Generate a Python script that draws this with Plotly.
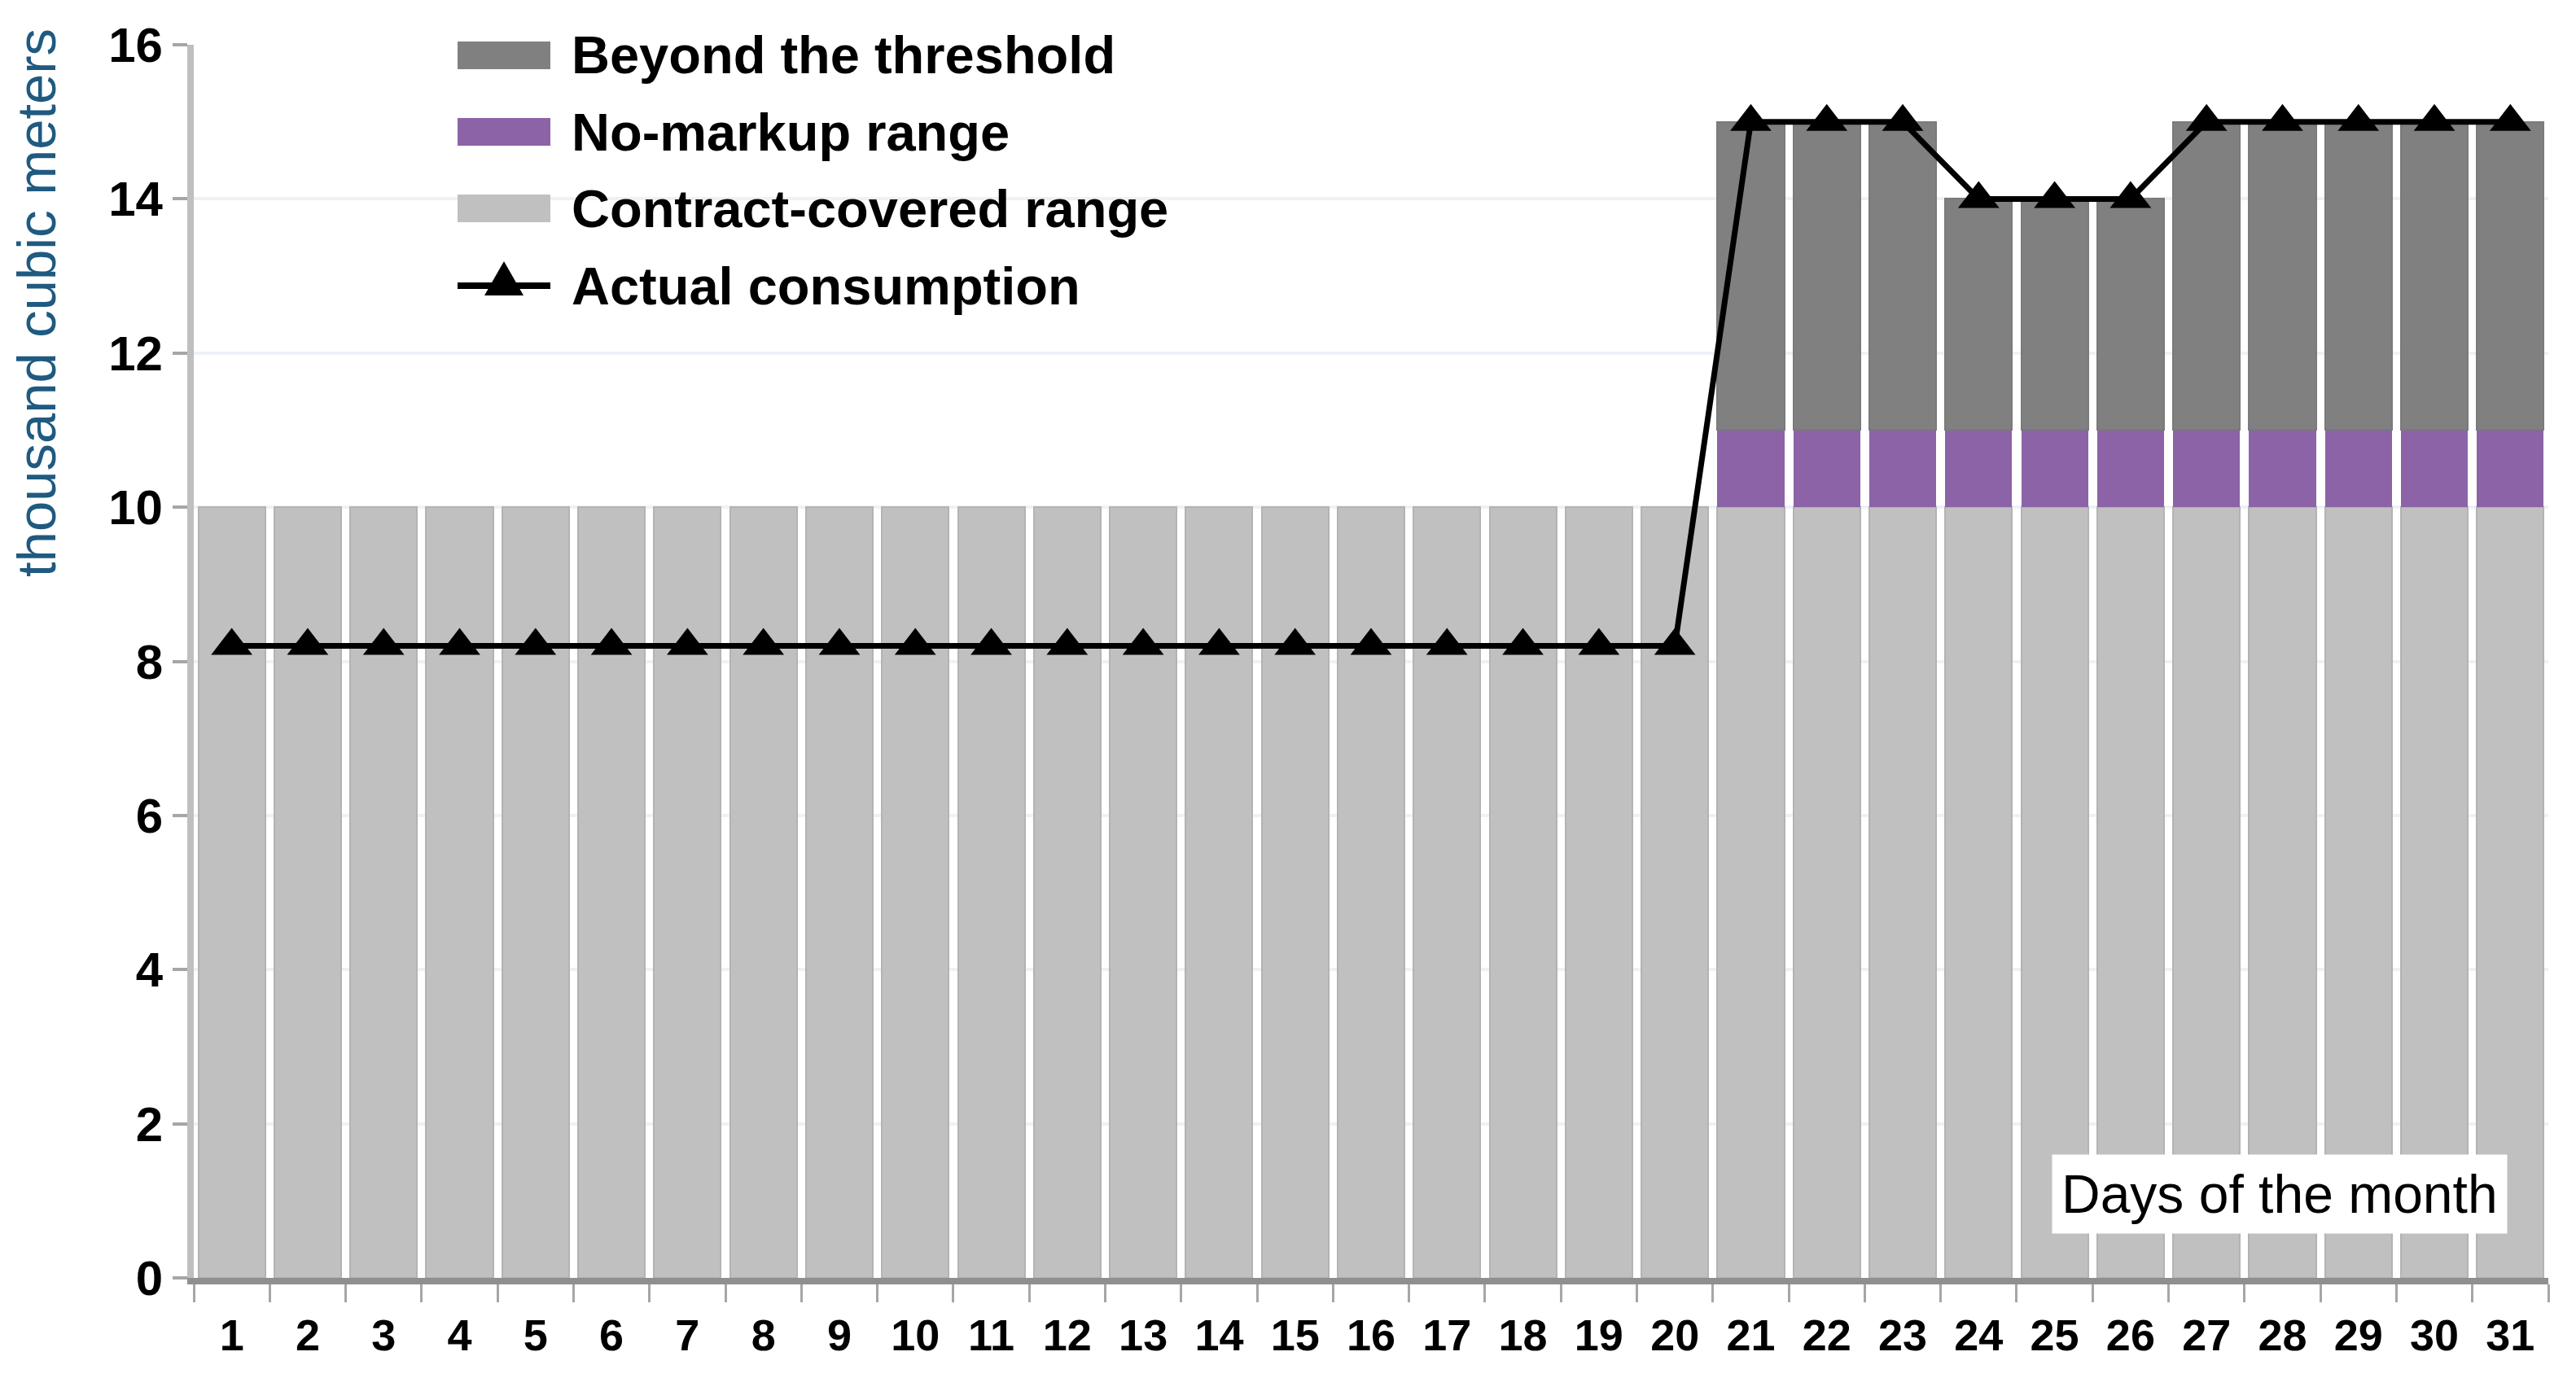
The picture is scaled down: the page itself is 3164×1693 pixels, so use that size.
import plotly.graph_objects as go

# ---- data ----
days = ["1", "2", "3", "4", "5", "6", "7", "8", "9", "10", "11", "12", "13", "14", "15", "16",
        "17", "18", "19", "20", "21", "22", "23", "24", "25", "26", "27", "28", "29", "30", "31"]
contract_covered = [10, 10, 10, 10, 10, 10, 10, 10, 10, 10, 10, 10, 10, 10, 10, 10,
                    10, 10, 10, 10, 10, 10, 10, 10, 10, 10, 10, 10, 10, 10, 10]
no_markup = [None, None, None, None, None, None, None, None, None, None, None, None, None, None, None, None,
             None, None, None, None, 1, 1, 1, 1, 1, 1, 1, 1, 1, 1, 1]
beyond_threshold = [None, None, None, None, None, None, None, None, None, None, None, None, None, None, None, None,
                    None, None, None, None, 4, 4, 4, 3, 3, 3, 4, 4, 4, 4, 4]
actual = [8.2, 8.2, 8.2, 8.2, 8.2, 8.2, 8.2, 8.2, 8.2, 8.2, 8.2, 8.2, 8.2, 8.2, 8.2, 8.2,
          8.2, 8.2, 8.2, 8.2, 15, 15, 15, 14, 14, 14, 15, 15, 15, 15, 15]
y_ticks = [0, 2, 4, 6, 8, 10, 12, 14, 16]

series_names = ["Beyond the threshold", "No-markup range", "Contract-covered range", "Actual consumption"]

C_LIGHT = "#C0C0C0"
C_PURPLE = "#8B63A6"
C_DARK = "#808080"
FONT = "Liberation Sans, Arial, sans-serif"

# page offset (default body margin) and target plot box in window pixels
OFF = 8
W, H = 3156, 1685
PLOT_L, PLOT_R, PLOT_T, PLOT_B = 238, 3130, 55, 1570
ML = PLOT_L - OFF
MT = PLOT_T - OFF
MR = W - (PLOT_R - OFF)
MB = H - (PLOT_B - OFF)
PW, PH = PLOT_R - PLOT_L, PLOT_B - PLOT_T


def px_x(px):
    return (px - PLOT_L) / PW


def px_y(py):
    return (PLOT_B - py) / PH


fig = go.Figure()
fig.add_trace(go.Bar(x=days, y=contract_covered, name=series_names[2],
                     marker=dict(color=C_LIGHT, line=dict(color="#B3B3B3", width=2)), showlegend=False))
fig.add_trace(go.Bar(x=days, y=no_markup, name=series_names[1],
                     marker=dict(color=C_PURPLE, line=dict(width=0)), showlegend=False))
fig.add_trace(go.Bar(x=days, y=beyond_threshold, name=series_names[0],
                     marker=dict(color=C_DARK, line=dict(color="#7A7A7A", width=2)), showlegend=False))
fig.add_trace(go.Scatter(x=days, y=actual, name=series_names[3], mode="lines+markers",
                         line=dict(color="black", width=7),
                         marker=dict(symbol="triangle-up", size=44, color="black"), showlegend=False))

# ---- manual legend (wide swatches like the reference) ----
shapes = []
annotations = []
row_px = [68, 162, 256, 351]
sw_x0, sw_x1, txt_x = 562, 676, 700
sw_colors = [C_DARK, C_PURPLE, C_LIGHT]
for i in range(3):
    yc = row_px[i]
    shapes.append(dict(type="rect", xref="paper", yref="paper",
                       x0=px_x(sw_x0), x1=px_x(sw_x1), y0=px_y(yc + 17), y1=px_y(yc - 17),
                       fillcolor=sw_colors[i], line=dict(width=0), layer="above"))
yc = row_px[3]
shapes.append(dict(type="line", xref="paper", yref="paper",
                   x0=px_x(sw_x0), x1=px_x(sw_x1), y0=px_y(yc), y1=px_y(yc),
                   line=dict(color="black", width=8), layer="above"))
cx = (sw_x0 + sw_x1) / 2
tri = "M {:.5f} {:.5f} L {:.5f} {:.5f} L {:.5f} {:.5f} Z".format(
    px_x(cx - 24), px_y(yc + 12), px_x(cx + 24), px_y(yc + 12), px_x(cx), px_y(yc - 30))
shapes.append(dict(type="path", xref="paper", yref="paper", path=tri,
                   fillcolor="black", line=dict(width=0), layer="above"))

for i in range(4):
    annotations.append(dict(text=series_names[i], xref="paper", yref="paper",
                            x=px_x(txt_x), y=px_y(row_px[i]), xanchor="left", yanchor="middle",
                            showarrow=False, font=dict(family=FONT, size=65, color="black", weight="bold")))

annotations.append(dict(text="thousand cubic meters", xref="paper", yref="paper",
                        x=px_x(44), y=px_y(372), textangle=-90, xanchor="center", yanchor="middle",
                        showarrow=False, font=dict(family=FONT, size=67, color="#1F5A80")))
annotations.append(dict(text="Days of the month", xref="paper", yref="paper",
                        x=px_x(2800), y=px_y(1467), xanchor="center", yanchor="middle",
                        showarrow=False, bgcolor="white", borderpad=11,
                        font=dict(family=FONT, size=66, color="black")))

fig.update_layout(
    width=W, height=H, autosize=False,
    margin=dict(l=ML, r=MR, t=MT, b=MB),
    paper_bgcolor="white", plot_bgcolor="white",
    barmode="stack", bargap=0.12,
    font=dict(family=FONT, color="black"),
    shapes=shapes, annotations=annotations, showlegend=False,
)
fig.update_xaxes(type="category", range=[-0.5, 30.5], tickson="boundaries",
                 ticks="outside", ticklen=22, tickwidth=3, tickcolor="#A6A6A6",
                 showline=True, linecolor="#8F8F8F", linewidth=8, showgrid=False,
                 tickfont=dict(family=FONT, size=54, color="black", weight="bold"),
                 ticklabelstandoff=16)
fig.update_yaxes(range=[0, 16], tickvals=y_ticks, ticks="outside", ticklen=18, tickwidth=4,
                 tickcolor="#A6A6A6", showline=True, linecolor="#BFBFBF", linewidth=8,
                 showgrid=True, gridcolor="#EEF2F7", gridwidth=4, zeroline=False,
                 tickfont=dict(family=FONT, size=60, color="black", weight="bold"))

fig.write_html("out.html")
